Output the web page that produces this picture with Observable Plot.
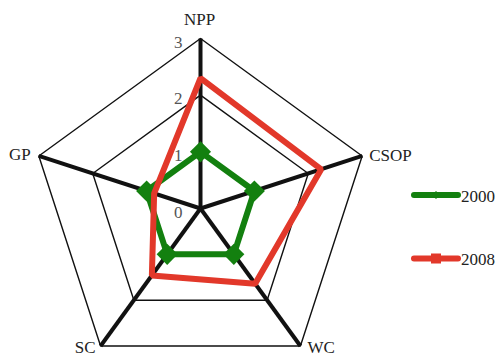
<!DOCTYPE html>
<html>
<head>
<meta charset="utf-8">
<script src="https://cdn.jsdelivr.net/npm/d3@7"></script>
<script src="https://cdn.jsdelivr.net/npm/@observablehq/plot@0.6"></script>
<style>
  html, body { margin: 0; padding: 0; background: #fff; }
  #chart { position: relative; width: 499px; height: 358px; }
  #chart svg { display: block; }
  #legend { position: absolute; left: 0; top: 0; pointer-events: none; }
</style>
</head>
<body>
<div id="chart"></div>
<script>
// Radar axes, clockwise from the top
const axes = ["NPP", "CSOP", "WC", "SC", "GP"];
// Series
const seriesNames = ["2000", "2008"];
const values2000 = [1.0, 1.0, 1.0, 1.0, 1.0];
const values2008 = [2.3, 2.24, 1.64, 1.46, 0.86];
const seriesColors = ["#13800f", "#e2382a"];
// Grid rings and their tick labels
const ringLevels = [1, 2, 3];
const tickValues = [0, 1, 2, 3];
const maxValue = 3;

const W = 499, H = 358;
const cx = 200, cy = 208, R = 170; // centre and outer radius in pixels

const angle = i => (2 * Math.PI * i) / axes.length;
const px = (r, i) => r * Math.sin(angle(i));
const py = (r, i) => r * Math.cos(angle(i));

const rings = ringLevels.flatMap(level =>
  axes.map((a, i) => ({level, x: px(level, i), y: py(level, i)}))
);
const spokes = axes.map((a, i) => ({axis: a, x: px(maxValue, i), y: py(maxValue, i)}));
const seriesValues = [values2000, values2008];
const points = seriesNames.flatMap((s, k) =>
  axes.map((a, i) => ({series: s, axis: a, value: seriesValues[k][i],
    x: px(seriesValues[k][i], i), y: py(seriesValues[k][i], i)}))
);

// Placement of each axis title around its outer vertex
const labelStyle = {
  NPP:  {textAnchor: "middle", dx: -1, dy: -14},
  CSOP: {textAnchor: "start",  dx: 7,  dy: 5},
  WC:   {textAnchor: "start",  dx: 7,  dy: 7},
  SC:   {textAnchor: "end",    dx: -5, dy: 7},
  GP:   {textAnchor: "end",    dx: -8, dy: 4}
};

const font = "Liberation Serif, Times New Roman, serif";

const plot = Plot.plot({
  width: W,
  height: H,
  margin: 0,
  style: {fontFamily: font, background: "#fff"},
  x: {domain: [-maxValue, maxValue], range: [cx - R, cx + R], axis: null},
  y: {domain: [-maxValue, maxValue], range: [cy + R, cy - R], axis: null},
  color: {domain: seriesNames, range: seriesColors},
  marks: [
    Plot.line(rings, {x: "x", y: "y", z: "level", curve: "linear-closed",
      stroke: "#111", strokeWidth: 1.4}),
    Plot.link(spokes, {x1: 0, y1: 0, x2: "x", y2: "y", stroke: "#111", strokeWidth: 4}),
    Plot.line(points.filter(d => d.series === "2000"), {x: "x", y: "y", curve: "linear-closed",
      stroke: "series", strokeWidth: 6, strokeLinejoin: "miter"}),
    Plot.dot(points.filter(d => d.series === "2000"), {x: "x", y: "y", symbol: "diamond2",
      r: 9.5, fill: "series", stroke: null}),
    Plot.line(points.filter(d => d.series === "2008"), {x: "x", y: "y", curve: "linear-closed",
      stroke: "series", strokeWidth: 6, strokeLinejoin: "miter"}),
    Plot.text(tickValues, {x: 0, y: d => d, text: d => String(d), textAnchor: "end",
      lineAnchor: "bottom", dx: -18, dy: 9, fill: "#555", fontSize: 17, fontFamily: font}),
    ...axes.map(a => Plot.text(spokes.filter(d => d.axis === a), {x: "x", y: "y", text: "axis",
      lineAnchor: "bottom", fill: "#222", fontSize: 17, fontFamily: font, ...labelStyle[a]}))
  ]
});

const chart = document.getElementById("chart");
chart.appendChild(plot);

// Legend on the right: a line swatch with its marker, then the year
const legendRows = seriesNames.map((s, k) => ({name: s, color: seriesColors[k], row: k}));
const lg = d3.select(chart).append("svg")
  .attr("id", "legend").attr("width", W).attr("height", H);
const item = lg.selectAll("g").data(legendRows).join("g")
  .attr("transform", d => `translate(412,${195 + d.row * 63.5})`);
item.append("line")
  .attr("x1", 2).attr("x2", 46).attr("y1", 0).attr("y2", 0)
  .attr("stroke", d => d.color).attr("stroke-width", 6).attr("stroke-linecap", "round");
item.filter(d => d.row === 0).append("path")
  .attr("transform", "translate(24,0)")
  .attr("d", d3.symbol(d3.symbolDiamond2, 40))
  .attr("fill", d => d.color);
item.filter(d => d.row === 1).append("rect")
  .attr("x", 19).attr("y", -5).attr("width", 10).attr("height", 10)
  .attr("fill", d => d.color);
item.append("text")
  .attr("x", 49).attr("y", 6.5)
  .attr("font-family", font).attr("font-size", 17).attr("fill", "#222")
  .text(d => d.name);
</script>
</body>
</html>
